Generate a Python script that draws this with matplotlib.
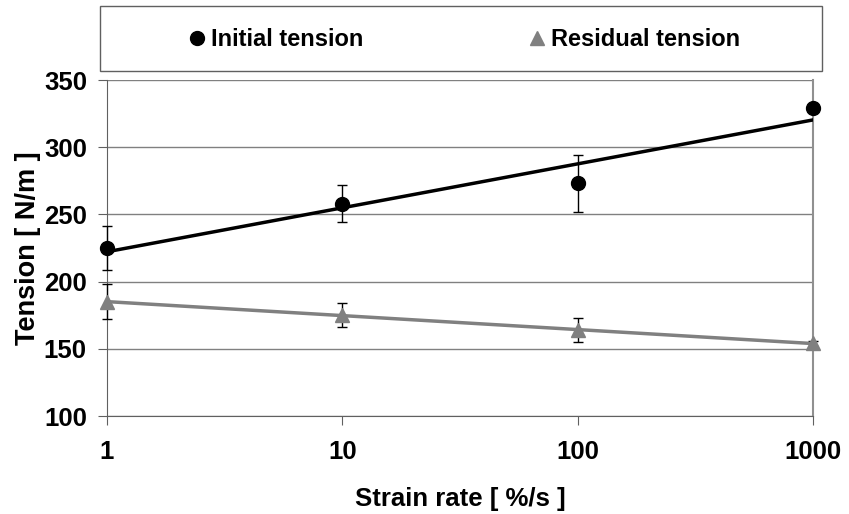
import numpy as np
import matplotlib.pyplot as plt
from matplotlib.lines import Line2D
from matplotlib.patches import Rectangle

plt.rcParams['font.family'] = ['Liberation Sans', 'DejaVu Sans']
plt.rcParams['font.weight'] = 'bold'

# data
strain_rate = [1, 10, 100, 1000]
initial = [225, 258, 273, 329]
initial_err = [16, 14, 21, 0]
residual = [185, 175, 164, 154]
residual_err = [13, 9, 9, 2]

fig = plt.figure(figsize=(8.49, 5.14), dpi=100)
ax = fig.add_axes([107/849, 1-416/514, (813-107)/849, (416-80)/514])

ax.set_xscale('log')
ax.set_xlim(1, 1000)
ax.set_ylim(100, 350)
ax.set_yticks([100, 150, 200, 250, 300, 350])
ax.set_xticks(strain_rate)
ax.set_xticklabels(['1', '10', '100', '1000'])
ax.minorticks_off()

ax.grid(axis='y', color='#808080', lw=1)
ax.set_axisbelow(True)
ax.spines['top'].set_visible(False)
ax.spines['left'].set_color('#606060')
ax.spines['bottom'].set_color('#606060')
ax.spines['right'].set_color('#909090')
ax.spines['right'].set_linewidth(1.5)
ax.tick_params(axis='both', labelsize=18.5, color='#606060', length=6.5)
ax.tick_params(axis='x', pad=11)
ax.tick_params(axis='y', pad=8)

lx = np.log10(strain_rate)
xs = np.array([1, 1000])

# initial tension
ax.errorbar(strain_rate, initial, yerr=initial_err, fmt='o', color='black',
            ms=10, ecolor='black', elinewidth=1, capsize=3.5, capthick=1,
            clip_on=False, zorder=3)
p = np.polyfit(lx, initial, 1)
ax.plot(xs, np.polyval(p, np.log10(xs)), color='black', lw=2.5, zorder=4)

# residual tension
ax.errorbar(strain_rate, residual, yerr=residual_err, fmt='^', color='#808080',
            ms=10, ecolor='black', elinewidth=1, capsize=3.5, capthick=1,
            clip_on=False, zorder=3)
p = np.polyfit(lx, residual, 1)
ax.plot(xs, np.polyval(p, np.log10(xs)), color='#808080', lw=2.5, zorder=4)

ax.set_xlabel('Strain rate [ %/s ]', fontsize=18.5, fontweight='bold', labelpad=16)
ax.set_ylabel('Tension [ N/m ]', fontsize=19.5, fontweight='bold', labelpad=2)

# legend box
fig.patches.append(Rectangle((100/849, 1-71/514), 722/849, 65/514,
                             transform=fig.transFigure, fill=False,
                             edgecolor='#606060', lw=1))
handles = [Line2D([], [], ls='none', marker='o', color='black', ms=10),
           Line2D([], [], ls='none', marker='^', color='#808080', ms=10)]
fig.legend(handles, ['Initial tension', 'Residual tension'], ncol=2,
           loc='center', bbox_to_anchor=(462/849, 1-40/514), frameon=False,
           fontsize=17, columnspacing=6.8, handletextpad=0.05, handlelength=1.1)

fig.savefig('out.png', dpi=100)
